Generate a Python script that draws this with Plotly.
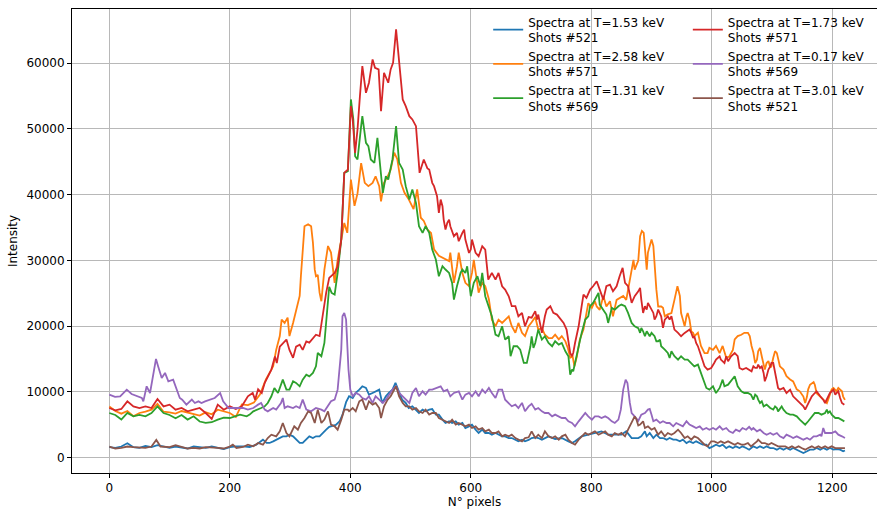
import plotly.graph_objects as go

# Spectra (pixel index, intensity) for each shot
BLUE_153 = [(0,1600),(10,1500),(20,1700),(30,2200),(40,1600),(50,1500),(60,1800),(70,1600),(80,1900),(90,1700),(100,1500),(110,1700),(120,1500),(130,1400),(140,1700),(150,1600),(160,1500),(170,1700),(180,1500),(190,1300),(200,1600),(211,1730),(222,1730),(233,1630),(244,1980),(255,2740),(261,2240),(266,2240),(272,2490),(277,2740),(283,2990),(288,3250),(294,3250),(299,3500),(305,3250),(310,2740),(316,2240),(321,2240),(327,2740),(332,3250),(338,2990),(343,3250),(349,3250),(354,3760),(360,4260),(365,4700),(371,4800),(376,5000),(382,5500),(387,6500),(393,8450),(398,9340),(404,9080),(409,9850),(415,10350),(420,10860),(426,10610),(431,9590),(437,9850),(442,10100),(448,10350),(453,8330),(459,9340),(464,9850),(470,10350),(475,11370),(481,9850),(486,8830),(492,8330),(497,7560),(503,7820),(508,7310),(514,6800),(520,7310),(525,7060),(531,7300),(536,7400),(542,6550),(547,6550),(553,5790),(558,5280),(564,5530),(569,5280),(575,5530),(580,5030),(586,5280),(591,4520),(597,4770),(602,5030),(608,4270),(613,3760),(619,4270),(624,3760),(630,3760),(635,3500),(641,3760),(646,3500),(652,3250),(657,3250),(663,2990),(668,2990),(674,2740),(679,2490),(685,2740),(690,2490),(696,2700),(701,2990),(707,3100),(712,2990),(718,2740),(729,3250),(740,2850),(751,2990),(762,2490),(768,2240),(773,2490),(784,3250),(795,3500),(806,3760),(817,4010),(828,3500),(839,3500),(850,3500),(858,4010),(867,2990),(878,2990),(883,3250),(889,4010),(892,3250),(897,3760),(903,2990),(908,3500),(914,2990),(919,2990),(925,2740),(930,2990),(936,2740),(941,2740),(947,2490),(952,2740),(958,2230),(963,2490),(969,2230),(974,2490),(980,2230),(985,1980),(991,1980),(996,1470),(1002,1730),(1007,1980),(1013,1730),(1018,1980),(1024,1470),(1029,1730),(1035,1470),(1040,1730),(1046,1470),(1051,1730),(1057,1470),(1062,1220),(1069,1730),(1075,1470),(1080,1730),(1086,1470),(1091,1730),(1097,1470),(1102,1470),(1108,1220),(1113,1470),(1119,1220),(1124,1470),(1130,1220),(1135,1470),(1141,1220),(1146,970),(1152,710),(1158,970),(1163,1220),(1169,1220),(1174,1470),(1180,1220),(1185,1470),(1191,1220),(1196,1470),(1202,1220),(1207,1320),(1213,1220),(1218,970),(1221,1100)]

ORANGE_258 = [(0,7800),(10,7100),(20,6700),(30,7100),(40,6300),(50,6800),(60,7000),(70,7300),(80,8200),(90,7000),(100,6900),(110,6700),(120,7100),(130,6900),(140,6600),(150,6400),(160,6900),(170,6600),(180,7300),(190,7000),(200,6800),(210,6200),(220,8100),(230,8000),(240,8400),(250,9600),(260,11900),(266,12900),(272,13900),(277,16400),(283,18500),(286,21000),(291,20500),(296,21300),(299,18500),(305,20500),(310,22500),(316,24600),(318,27600),(321,31200),(324,35200),(330,35500),(335,35200),(338,32700),(341,28600),(343,27600),(346,27800),(349,25100),(352,23800),(357,28600),(363,32200),(368,31200),(374,26600),(379,30100),(387,34200),(390,35700),(395,34200),(401,42300),(407,38300),(412,40200),(418,44800),(424,41800),(430,41300),(437,41800),(442,42800),(448,41300),(451,39000),(456,41800),(462,42800),(467,43800),(473,46400),(478,45400),(484,41800),(490,40300),(497,39300),(505,37800),(511,40800),(517,36500),(522,36000),(528,34700),(534,34200),(539,31700),(547,30700),(558,30100),(564,29900),(566,31200),(572,26600),(577,29100),(580,31200),(586,28100),(591,26600),(597,26100),(602,28100),(605,30100),(608,28100),(613,25100),(619,26600),(624,26100),(630,24100),(635,21000),(641,20000),(646,21000),(652,20500),(657,21000),(663,21500),(668,20000),(674,19000),(679,20500),(685,19000),(690,18500),(696,20000),(701,20600),(707,21400),(712,19500),(718,19700),(723,18700),(729,18200),(735,18200),(740,18700),(746,18000),(751,18500),(757,17700),(761,16700),(765,15200),(769,15400),(772,13900),(776,15400),(781,18000),(787,19500),(792,22000),(795,23500),(801,22800),(806,23800),(809,23000),(814,22500),(820,24600),(825,23000),(831,23800),(836,21500),(842,24000),(847,24300),(853,24600),(858,24000),(861,25600),(864,27100),(870,30100),(872,28600),(878,30000),(881,33700),(884,34500),(887,34200),(889,31700),(892,28600),(894,31200),(897,32200),(900,33200),(903,32200),(905,29100),(908,25600),(911,23000),(916,23000),(919,22800),(922,21500),(927,21800),(933,22000),(938,24000),(943,26100),(947,24600),(949,22000),(952,21000),(955,20000),(958,21500),(960,22000),(963,21000),(966,19200),(969,19000),(971,18500),(977,19000),(980,18000),(982,17000),(988,15900),(993,15900),(996,16700),(1002,16400),(1007,17000),(1013,15900),(1018,17000),(1024,15200),(1029,15400),(1035,16400),(1038,18000),(1043,18500),(1049,18700),(1054,19000),(1060,19000),(1063,18500),(1066,17000),(1069,16000),(1072,14400),(1075,14900),(1077,16200),(1080,16700),(1083,15400),(1086,13900),(1088,13400),(1091,14400),(1094,14700),(1097,13700),(1099,13900),(1102,15200),(1105,16200),(1108,15900),(1110,14900),(1113,13900),(1119,13400),(1124,12400),(1130,11900),(1135,11600),(1141,10400),(1146,10100),(1152,9300),(1155,8300),(1158,9300),(1160,10400),(1163,11100),(1169,11500),(1171,11100),(1174,9800),(1180,9300),(1185,8800),(1191,8300),(1193,8800),(1196,9800),(1199,10400),(1202,10600),(1207,10100),(1210,10600),(1213,10400),(1216,10100),(1218,9300),(1221,8800)]

GREEN_131 = [(0,6800),(10,6500),(20,5800),(30,6800),(40,6300),(50,6500),(60,6300),(70,6800),(80,7800),(90,6800),(100,6500),(110,6000),(120,6500),(130,5800),(140,6300),(150,5500),(160,5300),(170,5400),(180,5800),(190,6100),(200,6040),(208,6290),(217,6550),(228,6290),(233,6550),(239,7050),(247,7310),(252,7560),(258,7820),(263,8320),(269,9340),(274,10610),(280,9840),(288,11870),(294,10350),(299,10350),(305,11620),(310,11370),(316,10860),(321,11870),(327,12630),(332,12380),(338,12890),(343,13900),(346,15930),(352,15430),(357,17450),(360,21000),(365,26000),(369,25060),(374,24810),(379,28110),(383,32000),(385,33180),(390,43330),(396,43580),(401,54490),(405,51450),(408,45860),(412,45360),(418,50430),(420,51950),(426,47890),(430,47390),(434,45360),(440,44850),(445,48660),(449,44850),(454,40280),(459,42820),(463,42310),(470,45360),(476,50430),(481,44850),(487,43840),(492,41300),(498,39270),(503,40790),(509,38760),(514,35210),(520,34200),(525,35210),(531,34200),(536,31660),(542,30140),(547,27600),(553,29120),(558,28620),(564,28110),(569,26590),(572,24050),(577,26080),(583,28110),(586,28620),(591,28110),(594,29120),(600,24560),(605,26590),(611,27600),(616,26080),(619,28110),(624,24560),(630,23040),(635,21510),(641,18720),(646,18470),(652,19990),(657,17960),(663,18470),(666,15430),(671,16950),(677,16950),(682,16440),(688,14410),(693,14410),(699,16950),(701,18470),(704,16690),(707,17450),(712,19480),(718,17960),(723,18470),(729,17450),(735,16950),(740,17710),(746,17200),(751,17450),(757,16190),(762,15430),(765,12630),(768,13400),(770,13140),(773,14410),(779,16950),(784,18980),(790,21010),(795,21510),(798,23040),(803,23540),(809,24560),(812,25060),(814,23290),(820,22530),(825,21770),(828,20500),(834,22780),(839,22530),(845,23040),(850,23290),(856,23040),(861,22020),(867,20500),(872,19990),(878,19700),(881,18980),(883,19740),(886,19230),(889,18470),(892,19230),(894,18980),(897,18470),(900,18980),(905,18470),(908,17710),(911,17710),(914,17960),(916,16950),(922,16440),(927,15930),(930,15170),(933,16190),(938,15430),(944,14920),(949,15430),(955,14920),(960,14920),(966,14410),(971,13900),(977,14160),(980,13400),(985,11870),(991,10610),(996,10350),(1002,10860),(1007,9840),(1013,10610),(1018,11870),(1021,10860),(1027,11110),(1032,11620),(1038,12380),(1043,10860),(1049,10100),(1054,9840),(1060,9840),(1065,9590),(1069,8830),(1072,9590),(1075,9340),(1077,8830),(1080,8320),(1083,8580),(1086,7810),(1091,8070),(1097,7560),(1102,7310),(1105,7810),(1108,7560),(1110,7050),(1116,7810),(1119,7310),(1124,6800),(1130,6550),(1135,6550),(1141,6290),(1146,5790),(1152,5280),(1155,5030),(1160,5540),(1166,6290),(1171,6800),(1177,6800),(1182,6550),(1188,6800),(1191,7310),(1193,6800),(1196,7050),(1199,6550),(1205,6040),(1210,6040),(1216,5790),(1220,5530)]

RED_173 = [(0,7560),(10,7200),(20,7410),(30,8570),(40,7810),(50,7560),(60,7810),(70,7560),(80,8930),(90,7810),(100,8070),(110,7300),(120,7560),(130,7050),(140,7300),(150,7560),(160,6800),(170,5890),(180,8070),(190,7300),(200,7810),(210,7410),(220,7820),(230,9340),(238,9840),(242,8830),(247,10400),(253,9840),(258,11400),(264,12600),(269,13400),(275,15400),(278,14400),(283,16900),(288,17400),(294,17960),(299,16400),(305,15200),(310,16900),(316,17200),(321,16400),(327,17700),(332,17500),(338,18200),(343,18700),(349,18500),(354,21500),(360,25100),(365,27350),(374,28110),(379,29120),(385,33180),(390,43330),(396,43830),(401,53470),(404,51450),(408,46370),(412,49920),(416,54990),(420,59560),(426,55500),(431,57030),(437,60580),(441,59310),(447,59060),(451,52710),(456,58550),(460,57530),(463,57030),(467,59060),(471,60070),(476,65140),(481,60070),(487,54490),(492,53470),(498,51950),(503,51450),(509,50430),(515,43330),(522,45360),(528,44000),(531,43830),(536,41810),(539,41300),(544,39780),(547,37240),(550,39270),(553,38260),(555,36220),(558,34700),(561,35720),(564,36220),(566,35210),(572,33690),(577,34200),(580,32930),(586,34200),(589,34700),(591,33180),(597,31150),(600,31660),(602,33180),(608,31150),(613,30650),(619,32170),(624,31660),(629,27090),(635,28110),(641,27090),(646,28110),(652,26080),(657,25570),(663,24560),(668,23040),(674,23040),(679,21510),(685,22020),(690,19990),(696,21400),(701,21300),(707,22300),(710,21010),(712,21770),(718,18980),(723,21510),(726,22530),(732,23040),(737,22020),(743,21770),(748,21260),(754,20500),(759,19480),(762,17450),(765,15930),(768,15430),(770,15930),(773,17450),(779,19990),(784,23040),(787,24810),(792,24300),(798,25570),(803,26080),(809,26840),(814,25570),(820,24050),(825,26080),(831,26330),(836,25320),(842,26080),(847,27600),(852,28870),(856,26590),(861,26080),(867,23540),(872,24560),(878,25300),(881,25830),(883,24050),(886,22020),(889,23040),(892,22530),(894,23540),(897,23040),(900,22530),(903,22020),(905,21010),(908,21510),(911,22530),(914,21770),(916,21510),(919,19740),(922,21010),(927,21510),(930,21010),(933,21510),(936,19990),(938,19480),(944,18980),(949,18470),(955,18980),(960,19230),(963,19480),(966,18980),(969,18220),(971,18470),(974,17450),(977,16950),(982,15430),(988,13900),(993,13400),(999,13650),(1004,14410),(1007,14920),(1013,15430),(1015,14920),(1021,14410),(1024,15430),(1027,14660),(1029,14920),(1032,15430),(1038,15930),(1043,15430),(1046,13650),(1051,13400),(1057,13650),(1062,13400),(1066,13140),(1069,13900),(1072,13650),(1075,13650),(1077,14160),(1080,13650),(1083,13900),(1086,12890),(1088,11620),(1091,12380),(1094,13400),(1097,13900),(1099,14410),(1102,14410),(1105,12890),(1108,11620),(1110,10610),(1113,10350),(1119,10610),(1124,9840),(1130,10350),(1135,9340),(1141,8830),(1146,8320),(1152,7810),(1155,7310),(1160,8320),(1166,9340),(1171,9840),(1174,10100),(1180,9340),(1185,8830),(1188,8320),(1193,9340),(1196,9840),(1202,10350),(1205,9590),(1207,9840),(1210,10100),(1213,9080),(1216,8320),(1220,8070)]

PURPLE_017 = [(0,9590),(9.5,9240),(18,9330),(29,10350),(37,9690),(45.5,9330),(54,9080),(56.5,8570),(62,10860),(67.6,9840),(73,12890),(77.5,15020),(81,13900),(87,12120),(92.5,12890),(98,11620),(106,11870),(112,10350),(117,9080),(121,8830),(128,8070),(137,8830),(142,8320),(148,8570),(153,8320),(159,8570),(167,8830),(175,9080),(184,9840),(189,8570),(198,7560),(204,7560),(211,7560),(222,7560),(230,7310),(239,7560),(247,8070),(252,8320),(258,7310),(263,7050),(272,7560),(277,7310),(285,8320),(288,9080),(291,7560),(296,7820),(305,7560),(310,7820),(316,7560),(321,8830),(327,7310),(335,7050),(343,7560),(352,7310),(357,7050),(363,7820),(368,8580),(374,8830),(379,10350),(385,16440),(387,21510),(390,22020),(393,21000),(397,13400),(400,10350),(404,9340),(409,9850),(415,9590),(420,9080),(426,8830),(431,9340),(437,8330),(442,9340),(448,8830),(454,8330),(459,8830),(465,9590),(470,10350),(476,10860),(481,9850),(487,9340),(492,8830),(498,8330),(503,9850),(509,10610),(514,9340),(520,10100),(525,9590),(531,10350),(536,10350),(542,10610),(550,10860),(555,10100),(561,10350),(566,9340),(572,9850),(580,10100),(586,8830),(591,9590),(597,9850),(602,9340),(608,10100),(613,9340),(619,10350),(624,9850),(630,10610),(635,9850),(641,9080),(646,10350),(652,10350),(657,8830),(663,8330),(668,7820),(674,8070),(679,7560),(685,8330),(690,7060),(696,7800),(701,8200),(707,7310),(712,7560),(718,7050),(723,6800),(729,6800),(735,6290),(740,6550),(746,6290),(751,6040),(757,6040),(762,5530),(768,5280),(773,4770),(779,5530),(784,6040),(790,6800),(795,6290),(801,5790),(806,6290),(812,6290),(817,6040),(823,6290),(828,6040),(834,5530),(839,5280),(845,5790),(849,7310),(853,10350),(857,11870),(860,11370),(864,8330),(867,6800),(872,6290),(878,5600),(883,6550),(889,6800),(894,7310),(897,7410),(900,6550),(903,5540),(908,5790),(914,5280),(919,5540),(925,5280),(930,5280),(936,4770),(941,5280),(947,5030),(952,4770),(958,5540),(963,5030),(969,4770),(974,4520),(980,4770),(985,4260),(991,4520),(996,4260),(1002,4520),(1007,4260),(1013,4770),(1018,4260),(1024,4520),(1029,4010),(1035,3760),(1040,4260),(1046,4010),(1051,4520),(1057,4260),(1062,4700),(1066,4260),(1069,4520),(1075,4010),(1080,4260),(1086,3760),(1091,3500),(1097,3760),(1102,3500),(1108,3760),(1113,3250),(1119,2990),(1124,3500),(1130,3250),(1135,2990),(1141,3250),(1146,2990),(1152,2740),(1158,2990),(1163,2740),(1169,3250),(1174,3250),(1180,3500),(1182,3250),(1185,4520),(1188,3760),(1193,3760),(1199,3760),(1205,4010),(1210,3500),(1216,3250),(1221,2990)]

BROWN_301 = [(0,1700),(10,1400),(20,1500),(30,1700),(40,1600),(50,1500),(60,1500),(70,1700),(78,2700),(85,1700),(90,1700),(100,1600),(110,1900),(120,1600),(130,1400),(140,1500),(150,1400),(160,1600),(170,1600),(180,1500),(190,1400),(200,1700),(205,1980),(211,1480),(222,1630),(230,1980),(239,1730),(247,2240),(255,1980),(263,2990),(269,3500),(277,3250),(283,4010),(288,5280),(294,3760),(299,3250),(307,4770),(313,4260),(318,5280),(324,6040),(330,7050),(335,6800),(341,5280),(346,7310),(352,5280),(357,5790),(363,7050),(368,5030),(374,4770),(379,4260),(385,5790),(390,7310),(396,7310),(398,7060),(404,7560),(409,7060),(415,8580),(420,8830),(426,7310),(431,8580),(437,8070),(442,8330),(448,7560),(451,6040),(456,7820),(462,8830),(467,9340),(473,10350),(476,10860),(481,9340),(487,8330),(492,7820),(498,7820),(503,7310),(509,7560),(514,7060),(520,6800),(525,7310),(531,6550),(536,6800),(542,6800),(547,6040),(553,5790),(558,5530),(564,5280),(569,5790),(575,5030),(580,5280),(586,5030),(591,4770),(597,5030),(602,4520),(608,4770),(613,4270),(619,4520),(624,4010),(630,4270),(635,3760),(641,3760),(646,4010),(652,3250),(657,3500),(663,3250),(668,3500),(674,2990),(679,2740),(685,2490),(690,2990),(696,3100),(701,4010),(707,2990),(712,3500),(718,2990),(723,4010),(729,3250),(735,2990),(740,3250),(746,2740),(751,3250),(757,3500),(762,2740),(768,2240),(773,1980),(779,2740),(784,3250),(790,3760),(795,3500),(801,3760),(806,4010),(812,3500),(817,3760),(823,4010),(828,3500),(834,3250),(839,3760),(845,3500),(850,3760),(856,3250),(861,4270),(867,5280),(872,6290),(875,5790),(878,4900),(881,5030),(883,5280),(886,5530),(889,4520),(894,4770),(900,4260),(905,4520),(911,3500),(916,4010),(922,3250),(927,3760),(933,3500),(938,3760),(944,4260),(949,3760),(955,2990),(960,3250),(966,2740),(971,3250),(977,2990),(982,2490),(988,1980),(993,1730),(999,2490),(1004,2490),(1010,2230),(1015,2490),(1021,2230),(1027,2490),(1032,2230),(1038,1980),(1043,2230),(1049,1980),(1054,1980),(1060,2230),(1065,1730),(1069,1980),(1075,2490),(1077,2740),(1083,2230),(1088,2230),(1094,1980),(1099,2230),(1105,1980),(1110,1730),(1116,1730),(1122,1730),(1127,1470),(1133,1730),(1138,1470),(1144,1730),(1149,1470),(1155,1220),(1160,1470),(1166,1730),(1171,1470),(1177,1730),(1182,1470),(1188,1730),(1193,1470),(1199,1730),(1205,1470),(1210,1470),(1216,1470),(1221,1470)]

# (data, label, colour, legend column) in drawing order
SERIES = [
    (BLUE_153,   "Spectra at T=1.53 keV<br>Shots #521", "#1f77b4", "legend"),
    (ORANGE_258, "Spectra at T=2.58 keV<br>Shots #571", "#ff7f0e", "legend"),
    (GREEN_131,  "Spectra at T=1.31 keV<br>Shots #569", "#2ca02c", "legend"),
    (RED_173,    "Spectra at T=1.73 keV<br>Shots #571", "#d62728", "legend2"),
    (PURPLE_017, "Spectra at T=0.17 keV<br>Shots #569", "#9467bd", "legend2"),
    (BROWN_301,  "Spectra at T=3.01 keV<br>Shots #521", "#8c564b", "legend2"),
]

X_TICKS = [0, 200, 400, 600, 800, 1000, 1200]
Y_TICKS = [0, 10000, 20000, 30000, 40000, 50000, 60000]

fig = go.Figure()
for pts, label, colour, leg in SERIES:
    xs, ys = zip(*pts)
    fig.add_trace(go.Scatter(
        x=list(xs), y=list(ys), mode="lines", name=label,
        line=dict(color=colour, width=1.8), legend=leg,
    ))

FONT = "DejaVu Sans"
FS = 12
legend_style = dict(
    yanchor="top", xanchor="left", y=1.003,
    bgcolor="rgba(0,0,0,0)", borderwidth=0,
    font=dict(family=FONT, size=FS, color="black"),
    itemwidth=30, tracegroupgap=0,
)

fig.update_layout(
    width=877, height=510,
    margin=dict(l=72, r=0, t=9, b=37, autoexpand=False),
    plot_bgcolor="white", paper_bgcolor="white",
    font=dict(family=FONT, size=FS, color="black"),
    showlegend=True,
    legend=dict(x=0.517, **legend_style),
    legend2=dict(x=0.765, **legend_style),
)

axis_common = dict(
    showline=True, linecolor="black", linewidth=1,
    ticks="outside", ticklen=4, tickwidth=1, tickcolor="black",
    showgrid=True, gridcolor="#b8b8b8", gridwidth=1,
    zeroline=False,
    tickfont=dict(family=FONT, size=FS, color="black"),
)

fig.update_xaxes(
    range=[-61.9, 1274.2], tickvals=X_TICKS, mirror=True,
    title=dict(text="N° pixels", font=dict(family=FONT, size=FS, color="black"), standoff=3),
    **axis_common,
)
fig.update_yaxes(
    range=[-2327, 68247], tickvals=Y_TICKS, tickformat="d",
    title=dict(text="Intensity", font=dict(family=FONT, size=FS, color="black"), standoff=6),
    **axis_common,
)

fig.write_html("out.html")
